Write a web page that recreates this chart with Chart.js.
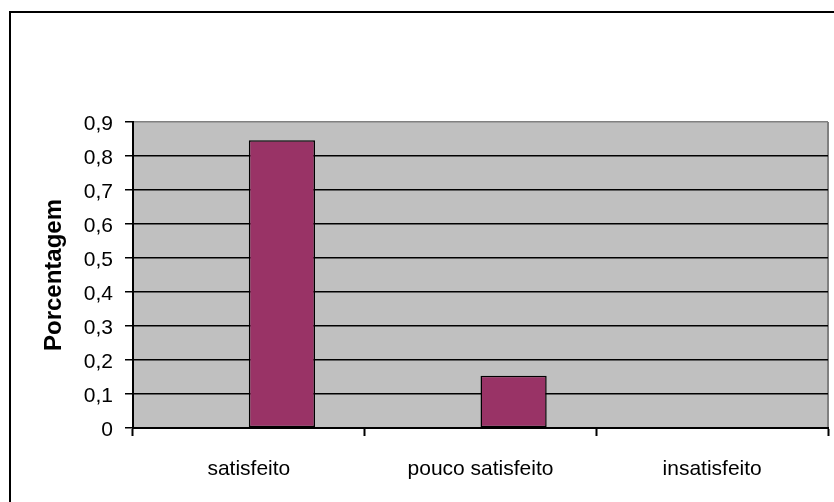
<!DOCTYPE html>
<html>
<head>
<meta charset="utf-8">
<style>
  html, body { margin: 0; padding: 0; background: #fff; overflow: hidden; width: 834px; height: 502px; }
  #frame { position: absolute; left: 9px; top: 11px; width: 900px; height: 600px; border: 2px solid #000; }
  #c { position: absolute; left: 0; top: 0; }
</style>
<script src="https://cdn.jsdelivr.net/npm/chart.js@4"></script>
</head>
<body>
<div id="frame"></div>
<canvas id="c" width="834" height="502"></canvas>
<script>
// Satisfaction survey: share of answers per category
const categories = ['satisfeito', 'pouco satisfeito', 'insatisfeito'];
const leadingSeries = [null, null, null];
const satisfactionShare = [0.846, 0.154, 0];
const yTickValues = [0, 0.1, 0.2, 0.3, 0.4, 0.5, 0.6, 0.7, 0.8, 0.9];
const yTickLabels = ['0', '0,1', '0,2', '0,3', '0,4', '0,5', '0,6', '0,7', '0,8', '0,9'];
const yAxisTitle = 'Porcentagem';

const FONT = '"Liberation Sans", Arial, sans-serif';
const LABEL_SIZE = 21;

// gray plot area with a gray frame on the right
const plotBackground = {
  id: 'plotBackground',
  beforeDraw(chart) {
    const { ctx, chartArea: a } = chart;
    ctx.save();
    ctx.fillStyle = '#C0C0C0';
    ctx.fillRect(a.left, a.top, a.right - a.left, a.bottom - a.top);
    ctx.strokeStyle = '#808080';
    ctx.lineWidth = 2;
    ctx.beginPath();
    ctx.moveTo(a.right, a.top);
    ctx.lineTo(a.right, a.bottom);
    ctx.stroke();
    ctx.restore();
  }
};

// tick labels, positioned from the library's scales
const axisLabels = {
  id: 'axisLabels',
  afterDraw(chart) {
    const { ctx } = chart;
    const xs = chart.scales.x, ys = chart.scales.y;
    ctx.save();
    ctx.fillStyle = '#000';
    ctx.font = LABEL_SIZE + 'px ' + FONT;
    ctx.textBaseline = 'alphabetic';

    ctx.textAlign = 'right';
    ys.ticks.forEach((t, i) => {
      const py = ys.getPixelForTick(i);
      ctx.fillText(yTickLabels[i], ys.right - 20, py + 8);
    });

    ctx.textAlign = 'center';
    categories.forEach((label, i) => {
      ctx.fillText(label, xs.getPixelForTick(i), xs.top + 47);
    });
    ctx.restore();
  }
};

new Chart(document.getElementById('c'), {
  type: 'bar',
  data: {
    labels: categories,
    datasets: [
      { data: leadingSeries, backgroundColor: '#993366', borderColor: '#000', borderWidth: 1.5, inflateAmount: 0 },
      { data: satisfactionShare, backgroundColor: '#993366', borderColor: '#000', borderWidth: 1.5, borderSkipped: false, inflateAmount: 0 }
    ]
  },
  options: {
    responsive: false,
    animation: false,
    devicePixelRatio: 1,
    layout: { padding: { top: 122, right: 6, left: 0, bottom: 0 } },
    datasets: { bar: { categoryPercentage: 2 / 3.5, barPercentage: 1 } },
    plugins: { legend: { display: false }, tooltip: { enabled: false } },
    scales: {
      x: {
        grid: { display: true, drawOnChartArea: false, drawTicks: true, tickLength: 8, tickColor: '#000', tickWidth: 2, offset: true },
        border: { display: true, color: '#000', width: 2 },
        ticks: { display: false },
        afterFit(s) { s.height = 74; }
      },
      y: {
        min: 0,
        max: 0.9,
        afterBuildTicks(s) { s.ticks = yTickValues.map(v => ({ value: v })); },
        grid: {
          color: c => (c.tick && c.tick.value > 0.89) ? '#808080' : '#000',
          lineWidth: 1.5,
          tickColor: '#000',
          tickWidth: 1.5,
          tickLength: 8
        },
        border: { display: true, color: '#000', width: 2 },
        ticks: { display: false },
        title: {
          display: true,
          text: yAxisTitle,
          color: '#000',
          font: { family: FONT, size: 24, weight: 'bold' },
          padding: { top: 40, bottom: 0 }
        },
        afterFit(s) { s.width = 133; }
      }
    }
  },
  plugins: [plotBackground, axisLabels]
});
</script>
</body>
</html>
